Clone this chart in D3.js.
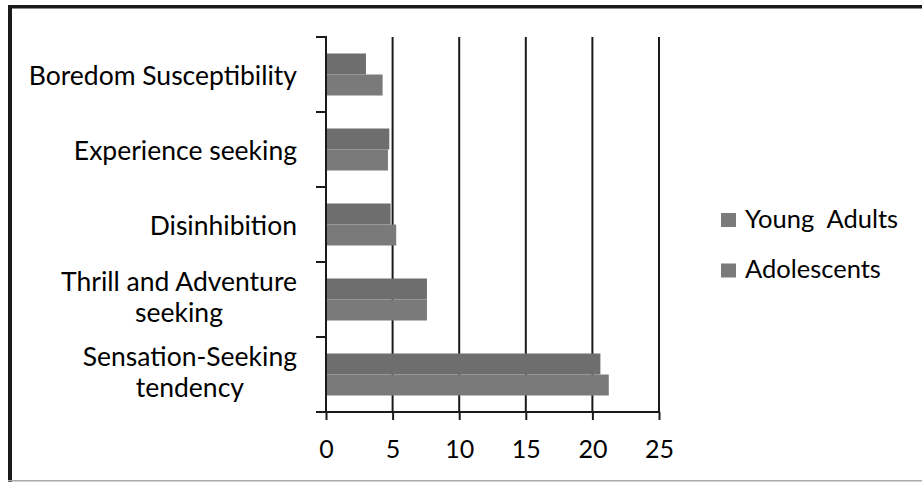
<!DOCTYPE html>
<html>
<head>
<meta charset="utf-8">
<script src="https://cdn.jsdelivr.net/npm/d3@7"></script>
<style>
  html, body { margin: 0; padding: 0; background: #fff; }
  svg { display: block; }
  text { font-family: Lato, "Open Sans", sans-serif; fill: #000; }
</style>
</head>
<body>
<svg id="chart" width="922" height="482"></svg>
<script>
// Sensation-seeking subscale scores by age group
const categories = [
  "Boredom Susceptibility",
  "Experience seeking",
  "Disinhibition",
  "Thrill and Adventure seeking",
  "Sensation-Seeking tendency"
];
// label lines as shown on the axis
const categoryLines = [
  ["Boredom Susceptibility"],
  ["Experience seeking"],
  ["Disinhibition"],
  ["Thrill and Adventure", "seeking"],
  ["Sensation-Seeking", "tendency"]
];
const seriesNames = ["Young  Adults", "Adolescents"];
const youngAdults = [3.0, 4.75, 4.85, 7.58, 20.6];
const adolescents = [4.25, 4.65, 5.27, 7.58, 21.23];
const xTicks = [0, 5, 10, 15, 20, 25];
const seriesColors = ["#6e6e6e", "#7a7a7a"];

const svg = d3.select("#chart");

// outer frame: heavy top and left edges, faint bottom edge
svg.append("rect").attr("x", 8).attr("y", 5).attr("width", 914).attr("height", 3.5).attr("fill", "#1a1a1a");
svg.append("rect").attr("x", 8).attr("y", 5).attr("width", 4).attr("height", 477).attr("fill", "#1a1a1a");
svg.append("rect").attr("x", 8).attr("y", 480).attr("width", 914).attr("height", 1.5).attr("fill", "#aaaaaa");

const x = d3.scaleLinear().domain([0, 25]).range([326, 659]);
const y = d3.scaleBand().domain(categories).range([37, 412]).paddingInner(0.44).paddingOuter(0.22);
const sub = d3.scaleBand().domain(seriesNames).range([0, y.bandwidth()]);

// vertical gridlines
svg.append("g").selectAll("line").data(xTicks.slice(1)).join("line")
  .attr("x1", d => x(d)).attr("x2", d => x(d))
  .attr("y1", 37).attr("y2", 412)
  .attr("stroke", "#1a1a1a").attr("stroke-width", 2);

// bars
const values = [youngAdults, adolescents];
seriesNames.forEach((s, si) => {
  svg.append("g").selectAll("rect").data(categories).join("rect")
    .attr("x", x(0))
    .attr("y", c => y(c) + sub(s))
    .attr("width", (c, i) => x(values[si][i]) - x(0))
    .attr("height", sub.bandwidth())
    .attr("fill", seriesColors[si]);
});

// category axis: line plus ticks at band boundaries
const step = y.step();
const boundaries = d3.range(categories.length + 1).map(i => 37 + i * step);
const yAxis = svg.append("g");
yAxis.append("line").attr("x1", x(0)).attr("x2", x(0)).attr("y1", 36).attr("y2", 413)
  .attr("stroke", "#1a1a1a").attr("stroke-width", 2);
yAxis.selectAll("line.tick").data(boundaries).join("line").attr("class", "tick")
  .attr("x1", 316).attr("x2", x(0)).attr("y1", d => d).attr("y2", d => d)
  .attr("stroke", "#1a1a1a").attr("stroke-width", 2);

// value axis along the bottom
const xAxis = d3.axisBottom(x).tickValues(xTicks).tickSize(8).tickPadding(10).tickSizeOuter(0);
const gx = svg.append("g").attr("transform", "translate(0,412)").call(xAxis);
gx.select(".domain").attr("stroke", "#1a1a1a").attr("stroke-width", 2).attr("d", `M316,0H${x(25)}`);
gx.selectAll(".tick line").attr("stroke", "#1a1a1a").attr("stroke-width", 2);
gx.selectAll(".tick text").attr("font-size", 25).attr("font-family", "Lato, sans-serif").attr("fill", "#000")
  .attr("dy", null).attr("y", 46);

// category labels, multi-line ones centred under their widest line
const labelRight = 297;
const lineGap = 31;
const labels = svg.append("g").attr("font-size", 26.5);
categoryLines.forEach((lines, i) => {
  const cy = y(categories[i]) + y.bandwidth() / 2;
  const base = lines.length > 1 ? cy + 6.5 : cy + 10;
  const g = labels.append("g");
  const texts = lines.map((ln, j) =>
    g.append("text").text(ln)
      .attr("y", base + (j - (lines.length - 1) / 2) * lineGap)
  );
  const widths = texts.map(t => t.node().getComputedTextLength());
  const maxW = d3.max(widths);
  texts.forEach(t => t.attr("x", labelRight - maxW / 2).attr("text-anchor", "middle"));
});

// legend
const legend = svg.append("g");
seriesNames.forEach((s, i) => {
  const ly = 220 + i * 50.5;
  legend.append("rect").attr("x", 721).attr("y", ly - 7).attr("width", 15).attr("height", 14)
    .attr("fill", seriesColors[1]);
  legend.append("text").attr("x", 745).attr("y", ly + 7.5).attr("font-size", 25.5)
    .style("white-space", "pre").text(s);
});
</script>
</body>
</html>
